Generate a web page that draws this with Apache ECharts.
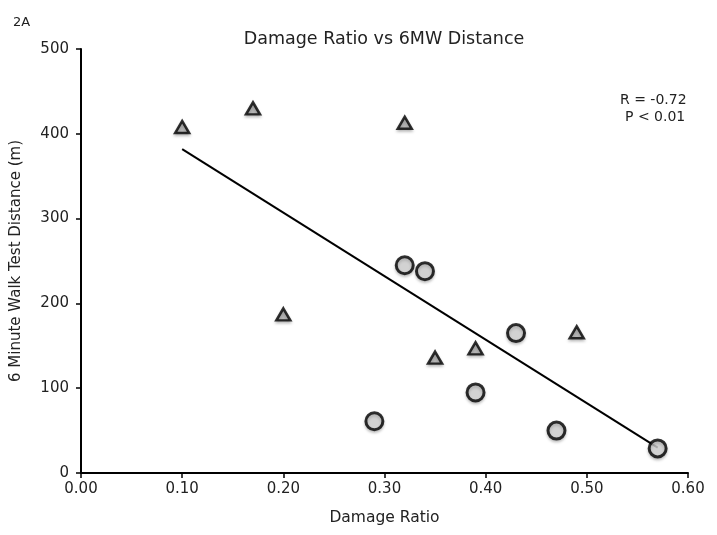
<!DOCTYPE html>
<html><head><meta charset="utf-8">
<script src="https://cdn.jsdelivr.net/npm/echarts@6/dist/echarts.min.js"></script>
<style>html,body{margin:0;padding:0;background:#fff}#c{width:717px;height:535px}</style>
</head><body><div id="c"></div>
<script>
const xTicks = [0.0, 0.1, 0.2, 0.3, 0.4, 0.5, 0.6];
const yTicks = [0, 100, 200, 300, 400, 500];
const triangleX = [0.10, 0.17, 0.32, 0.20, 0.35, 0.39, 0.49];
const triangleY = [408, 430, 413, 187, 136, 147, 166];
const circleX = [0.32, 0.34, 0.43, 0.29, 0.39, 0.47, 0.57];
const circleY = [245, 238, 165, 61, 95, 50, 29];
const trendX = [0.10, 0.57];
const trendY = [382, 30];

const zip = (a, b) => a.map((v, i) => [v, b[i]]);
const font = '"DejaVu Sans", sans-serif';
const chart = echarts.init(document.getElementById('c'));
chart.setOption({
  animation: false,
  backgroundColor: '#fff',
  title: [
    {text: 'Damage Ratio vs 6MW Distance', left: 379, top: 25, textAlign: 'center',
     textStyle: {fontFamily: font, fontWeight: 'normal', fontSize: 17.5, color: '#222'}},
    {text: '2A', left: 8, top: 11, textStyle: {fontFamily: font, fontWeight: 'normal', fontSize: 13, color: '#222'}}
  ],
  graphic: [
    {type: 'text', left: 620, top: 93, style: {text: 'R = -0.72', fontFamily: font, fontSize: 14, fill: '#222'}},
    {type: 'text', left: 625, top: 110, style: {text: 'P < 0.01', fontFamily: font, fontSize: 14, fill: '#222'}}
  ],
  grid: {left: 81, right: 29, top: 49, bottom: 62},
  xAxis: {
    type: 'value', min: xTicks[0], max: xTicks[xTicks.length - 1], interval: 0.1,
    name: 'Damage Ratio', nameLocation: 'middle', nameGap: 37,
    nameTextStyle: {fontFamily: font, fontSize: 15.5, color: '#222'},
    axisLine: {lineStyle: {color: '#000', width: 2}},
    axisTick: {show: true, length: 5, lineStyle: {color: '#000', width: 1.5}},
    axisLabel: {fontFamily: font, fontSize: 15, color: '#222', margin: 9, formatter: v => v.toFixed(2)},
    splitLine: {show: false}
  },
  yAxis: {
    type: 'value', min: yTicks[0], max: yTicks[yTicks.length - 1], interval: 100,
    name: '6 Minute Walk Test Distance (m)', nameLocation: 'middle', nameGap: 57,
    nameTextStyle: {fontFamily: font, fontSize: 15, color: '#222'},
    axisLine: {show: true, lineStyle: {color: '#000', width: 2}},
    axisTick: {show: true, length: 5, lineStyle: {color: '#000', width: 1.5}},
    axisLabel: {fontFamily: font, fontSize: 15, color: '#222', margin: 12},
    splitLine: {show: false}
  },
  series: [
    {type: 'line', data: zip(trendX, trendY), symbol: 'none',
     lineStyle: {color: '#000', width: 2}, z: 1},
    {type: 'scatter', data: zip(triangleX, triangleY), symbol: 'triangle', symbolSize: [14, 12],
     itemStyle: {color: '#b0b0b0', borderColor: '#000', borderWidth: 2.5,
       shadowColor: 'rgba(0,0,0,0.25)', shadowBlur: 3, shadowOffsetY: 2}, z: 3},
    {type: 'scatter', data: zip(circleX, circleY), symbol: 'circle', symbolSize: 17,
     itemStyle: {color: '#d3d3d3', borderColor: '#000', borderWidth: 3,
       shadowColor: 'rgba(0,0,0,0.25)', shadowBlur: 3, shadowOffsetY: 2}, z: 3}
  ]
});
</script></body></html>
